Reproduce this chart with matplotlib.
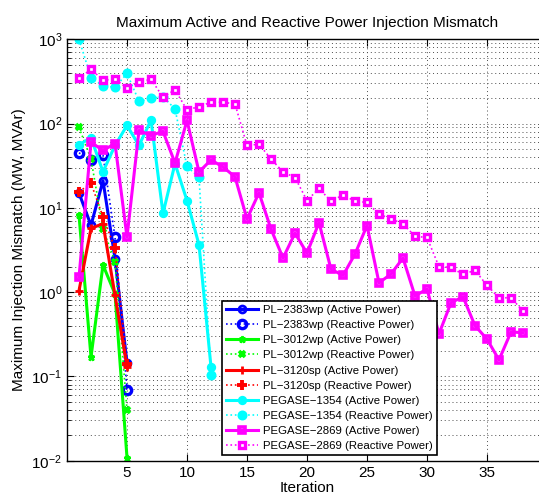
import matplotlib
matplotlib.use("Agg")
import matplotlib.pyplot as plt
import numpy as np
from matplotlib.ticker import LogLocator, FixedLocator

plt.rcParams['font.family'] = ['Liberation Sans', 'DejaVu Sans']
plt.rcParams['mathtext.default'] = 'regular'

# ---- data ----
pl2383_active = [15.0, 6.2, 21.0, 2.5, 0.145]
pl2383_reactive = [45.0, 37.0, 42.0, 4.5, 0.069]
pl3012_active = [8.2, 0.17, 2.1, 0.95, 0.0109]
pl3012_reactive = [90.0, 38.0, 5.6, 2.3, 0.040]
pl3120_active = [1.04, 5.7, 6.5, 0.92, 0.13]
pl3120_reactive = [15.5, 19.6, 7.8, 3.3, 0.14]
peg1354_active = [56, 68, 26.8, 55, 95, 55, 110, 8.6, 33.5, 12.2, 3.65, 0.13]
peg1354_reactive = [1000, 352, 282, 269, 393, 184, 199, 209, 149, 31, 23, 0.105]
peg2869_active = [1.5, 60, 48, 58, 4.5, 83, 72, 81, 34, 109, 26.7, 37, 30.6, 23.3,
                  7.4, 15.1, 5.6, 2.54, 5.0, 2.9, 6.7, 1.87, 1.58, 2.83, 6.17, 1.29,
                  1.64, 2.54, 0.9, 1.09, 0.32, 0.75, 0.88, 0.40, 0.277, 0.157, 0.337, 0.33]
peg2869_reactive = [343, 442, 327, 337, 264, 308, 337, 205, 252, 145, 159, 179, 179, 171,
                    55, 57, 38, 26.7, 22.9, 12.2, 17, 12, 14.2, 12, 11.6, 8.4, 7.4, 6.46,
                    4.6, 4.45, 2.0, 1.97, 1.62, 1.82, 1.2, 0.857, 0.857, 0.597]

labels = ['PL\u22122383wp (Active Power)', 'PL\u22122383wp (Reactive Power)',
          'PL\u22123012wp (Active Power)', 'PL\u22123012wp (Reactive Power)',
          'PL\u22123120sp (Active Power)', 'PL\u22123120sp (Reactive Power)',
          'PEGASE\u22121354 (Active Power)', 'PEGASE\u22121354 (Reactive Power)',
          'PEGASE\u22122869 (Active Power)', 'PEGASE\u22122869 (Reactive Power)']

title = 'Maximum Active and Reactive Power Injection Mismatch'
xlabel = 'Iteration'
ylabel = 'Maximum Injection Mismatch (MW, MVAr)'
xticks = [5, 10, 15, 20, 25, 30, 35]

fig = plt.figure(figsize=(5.39, 5.0), dpi=100)
ax = fig.add_axes([67/539, 39.3/500, 480/539, 421.4/500])

def it(v):
    return np.arange(1, len(v) + 1)

B, G, R, C, M = (0, 0, 1), (0, 1, 0), (1, 0, 0), (0, 1, 1), (1, 0, 1)
series = [
    (pl2383_active, dict(color=B, ls='-', lw=2.2, marker='o', ms=5, mfc='none', mew=2.0)),
    (pl2383_reactive, dict(color=B, ls=':', lw=1.2, marker='o', ms=6, mfc='none', mew=2.4)),
    (pl3012_active, dict(color=G, ls='-', lw=2.2, marker='*', ms=5, mew=1.8)),
    (pl3012_reactive, dict(color=G, ls=':', lw=1.2, marker='x', ms=4.5, mew=2.6)),
    (pl3120_active, dict(color=R, ls='-', lw=2.2, marker='+', ms=6, mew=2.0)),
    (pl3120_reactive, dict(color=R, ls=':', lw=1.2, marker='+', ms=6.5, mew=2.8)),
    (peg1354_active, dict(color=C, ls='-', lw=2.2, marker='o', ms=5.5, mfc=C, mew=1.2)),
    (peg1354_reactive, dict(color=C, ls=':', lw=1.2, marker='o', ms=6, mfc=C, mew=1.2)),
    (peg2869_active, dict(color=M, ls='-', lw=2.2, marker='s', ms=4.5, mfc='none', mew=2.6)),
    (peg2869_reactive, dict(color=M, ls=':', lw=1.2, marker='s', ms=5, mfc='white', mew=2.4)),
]

for (vals, st), lab in zip(series, labels):
    ax.plot(it(vals), vals, label=lab, **st)

ax.set_yscale('log')
ax.set_xlim(0, 40)
ax.set_ylim(1e-2, 1e3)
ax.xaxis.set_major_locator(FixedLocator(xticks))
ax.yaxis.set_major_locator(LogLocator(base=10, numticks=10))
ax.yaxis.set_minor_locator(LogLocator(base=10, subs=np.arange(2, 10), numticks=50))

ax.tick_params(which='both', direction='in', top=True, right=True, labelsize=11)
ax.tick_params(which='major', length=5, width=0.8)
ax.tick_params(which='minor', length=3, width=0.6)
ax.tick_params(axis='x', which='minor', top=False, bottom=False)

gridkw = dict(color='0.3', linestyle=(0, (1, 3)), linewidth=0.7)
ax.grid(True, which='major', axis='both', **gridkw)
ax.grid(True, which='minor', axis='y', **gridkw)
for sp in ax.spines.values():
    sp.set_linewidth(1.0)

ax.set_title(title, fontsize=11, pad=9)
ax.set_xlabel(xlabel, fontsize=11, labelpad=1)
ax.set_ylabel(ylabel, fontsize=11, labelpad=4)

leg = ax.legend(loc='lower right', bbox_to_anchor=(0.771, 0.013), fontsize=8.2,
                frameon=True, fancybox=False, edgecolor='black', framealpha=1,
                handlelength=2.8, handletextpad=0.45, borderpad=0.35, labelspacing=0.45,
                borderaxespad=0)
leg.get_frame().set_linewidth(1.2)

fig.savefig('out.png', dpi=100)
